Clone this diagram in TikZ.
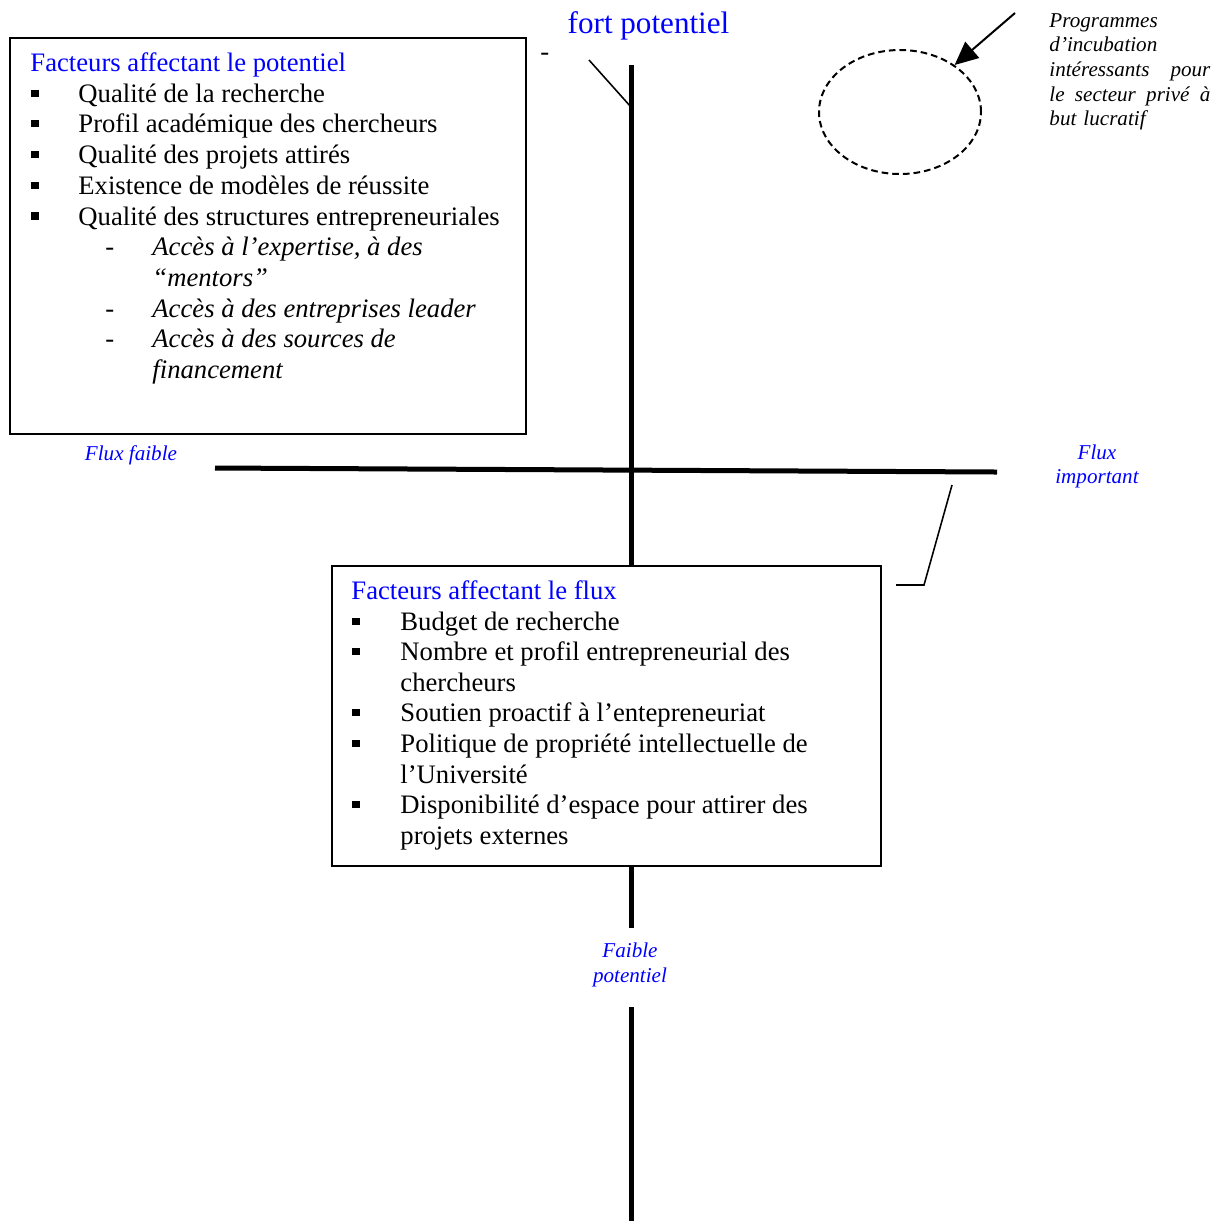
\documentclass[tikz,border=0pt]{standalone}
\usepackage{fontspec}
\setmainfont{Liberation Serif}
\usetikzlibrary{shapes.geometric,arrows.meta}

\tikzset{
  cadre/.style={draw, line width=0.8pt, rectangle, inner sep=0pt, anchor=north west},
  puce/.style={fill, rectangle, inner sep=0pt, minimum size=3.2pt},
  ligne/.style={anchor=base west, inner sep=0pt, font=\fontsize{12}{13.8}\selectfont},
  sousligne/.style={ligne, font=\fontsize{12}{13.8}\selectfont\itshape},
  titre/.style={ligne, text=blue},
  etiq/.style={text=blue, font=\fontsize{9.5}{11.1}\selectfont\itshape, align=center, inner sep=0pt},
  axe/.style={line width=2.25pt},
  fin/.style={line width=0.7pt},
}

\begin{document}
\begin{tikzpicture}[x=0.45pt, y=-0.45pt]
\useasboundingbox (0,0) rectangle (1224,1220);

% Titre de l'axe vertical
\node[titre, anchor=base, font=\fontsize{14}{16}\selectfont] (fortpot) at (648.5,33.5) {fort potentiel};
\node[ligne] (tiretseul) at (540,60) {-};

% Cadre : facteurs du potentiel
\node[cadre, minimum width=232.2pt, minimum height=178.2pt] (potbox) at (9,37) {};
\node[titre] (pottitre) at (30,71.5) {Facteurs affectant le potentiel};
\foreach \k/\txt in {1/Qualité de la recherche, 2/Profil académique des chercheurs,
    3/Qualité des projets attirés, 4/Existence de modèles de réussite,
    5/Qualité des structures entrepreneuriales} {
    \node[puce] (potpuce\k) at (35,{62.5+30.7*\k}) {};
    \node[ligne] (potitem\k) at (78,{71.5+30.7*\k}) {\txt};
}
\foreach \k in {6,8,9} {
    \node[ligne] (pottiret\k) at (105,{71.5+30.7*\k}) {-};
}
\foreach \k/\txt in {6/{Accès à l’expertise, à des}, 7/“mentors”,
    8/Accès à des entreprises leader, 9/Accès à des sources de, 10/financement} {
    \node[sousligne] (potsous\k) at (152,{71.5+30.7*\k}) {\txt};
}

% Cadre : facteurs du flux
\node[cadre, minimum width=247.05pt, minimum height=135pt] (fluxbox) at (331,565) {};
\node[titre] (fluxtitre) at (351,599.5) {Facteurs affectant le flux};
\foreach \k in {1,2,4,5,7} {
    \node[puce] (fluxpuce\k) at (356,{590.5+30.6*\k}) {};
}
\foreach \k/\txt in {1/Budget de recherche, 2/Nombre et profil entrepreneurial des,
    3/chercheurs, 4/Soutien proactif à l’entepreneuriat,
    5/Politique de propriété intellectuelle de, 6/l’Université,
    7/Disponibilité d’espace pour attirer des, 8/projets externes} {
    \node[ligne] (fluxligne\k) at (400,{599.5+30.6*\k}) {\txt};
}

% Axes
\coordinate (hgauche) at (215,468);
\coordinate (hdroite) at (997,472);
\draw[axe] (hgauche) -- (hdroite);

\coordinate (vhaut) at (631,65);
\coordinate (vcoupe1) at (631,928);
\coordinate (vcoupe2) at (631,1007);
\coordinate (vbas) at (631,1225);
\draw[axe] (vhaut) -- (vhaut |- fluxbox.north);
\draw[axe] (vhaut |- fluxbox.south) -- (vcoupe1);
\draw[axe] (vcoupe2) -- (vbas);

% Etiquettes des axes
\node[etiq] (fluxfaible) at (131,455) {Flux faible};
\node[etiq] (fluxfort) at (1097,466.5) {Flux\\important};
\node[etiq] (faiblepot) at (630,965) {Faible\\potentiel};

% Traits fins
\coordinate (traitA) at (589,60);
\coordinate (traitB) at (631,107);
\draw[fin] (traitA) -- (traitB);
\coordinate (crochetA) at (952,485);
\coordinate (crochetB) at (924,585);
\coordinate (crochetC) at (896,585);
\draw[fin] (crochetA) -- (crochetB) -- (crochetC);

% Programmes d'incubation
\node[draw, ellipse, line width=0.9pt, dash pattern=on 3pt off 1.8pt,
    minimum width=72.9pt, minimum height=55.8pt, inner sep=0pt] (incub) at (900,112) {};
\coordinate (flechequeue) at (1015,13);
\draw[line width=0.9pt, -{Triangle[length=10.5pt,width=9.5pt]}] (flechequeue) -- (incub);
\node[etiq, text=black, anchor=base west, align=left, text width=72.45pt] (programmes) at (1049,27)
    {Programmes\\ d’incubation\\ intéressants\hfill pour\\ le\hfill secteur\hfill privé\hfill à\\ but lucratif};

\end{tikzpicture}
\end{document}
